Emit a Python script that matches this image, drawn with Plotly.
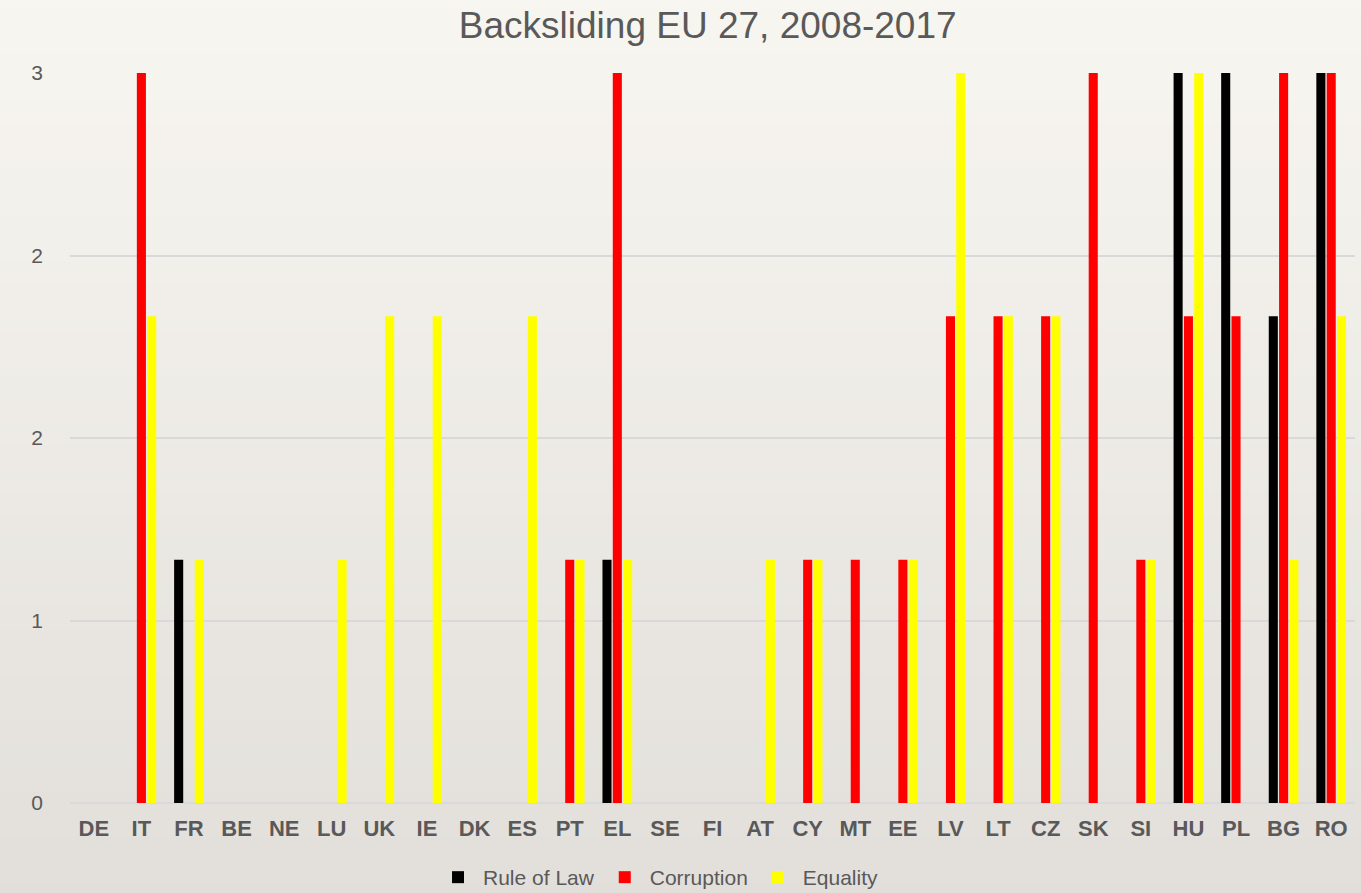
import plotly.graph_objects as go

countries = ["DE", "IT", "FR", "BE", "NE", "LU", "UK", "IE", "DK", "ES", "PT", "EL", "SE", "FI",
             "AT", "CY", "MT", "EE", "LV", "LT", "CZ", "SK", "SI", "HU", "PL", "BG", "RO"]
rule_of_law = [0, 0, 1, 0, 0, 0, 0, 0, 0, 0, 0, 1, 0, 0, 0, 0, 0, 0, 0, 0, 0, 0, 0, 3, 3, 2, 3]
corruption  = [0, 3, 0, 0, 0, 0, 0, 0, 0, 0, 1, 3, 0, 0, 0, 1, 1, 1, 2, 2, 2, 3, 1, 2, 2, 3, 3]
equality    = [0, 2, 1, 0, 0, 1, 2, 2, 0, 2, 1, 1, 0, 0, 1, 1, 0, 1, 3, 2, 2, 0, 1, 3, 0, 1, 2]

y_tickvals = [0, 0.75, 1.5, 2.25, 3]
y_ticktext = ["0", "1", "2", "2", "3"]

series = [("Rule of Law", rule_of_law, "#000000"),
          ("Corruption", corruption, "#ff0000"),
          ("Equality", equality, "#ffff00")]

fig = go.Figure()
for name, vals, col in series:
    fig.add_trace(go.Bar(x=countries, y=vals, name=name,
                         marker=dict(color=col, line=dict(width=0))))

# background gradient bands
shapes = []
n = 40
top = (248, 246, 240)
bot = (226, 223, 219)
for i in range(n):
    t = i / (n - 1)
    c = tuple(int(round(top[k] + (bot[k] - top[k]) * t)) for k in range(3))
    shapes.append(dict(type="rect", xref="paper", yref="paper", layer="below",
                       x0=-0.1, x1=1.1,
                       y1=1.12 - i * (1.12 + 0.14) / n,
                       y0=1.12 - (i + 1) * (1.12 + 0.14) / n - 0.002,
                       fillcolor="rgb(%d,%d,%d)" % c, line=dict(width=0)))

FONT = "Liberation Sans, Arial, sans-serif"

fig.update_layout(
    width=1361, height=893,
    margin=dict(l=70, r=6, t=73, b=90, autoexpand=False),
    paper_bgcolor="#e4e1dd",
    plot_bgcolor="rgba(0,0,0,0)",
    shapes=shapes,
    barmode="group",
    bargap=0.35,
    bargroupgap=0.12,
    title=dict(text="Backsliding EU 27, 2008-2017", x=0.52, xanchor="center", y=0.972, yanchor="middle",
               font=dict(family=FONT, size=37, color="#595959")),
    font=dict(family=FONT, color="#595959"),
    xaxis=dict(tickfont=dict(size=22, color="#595959", family=FONT, weight="bold"),
               showgrid=False, showline=False, ticks="", ticklabelstandoff=10),
    yaxis=dict(range=[0, 3], tickvals=y_tickvals, ticktext=y_ticktext,
               tickfont=dict(size=21, color="#595959"),
               showgrid=True, gridcolor="#d9d9d9", gridwidth=1.5,
               zeroline=True, zerolinecolor="#d9d9d9", zerolinewidth=1.5,
               showline=False, ticks="", ticklabelstandoff=26),
    legend=dict(orientation="h", x=0.458, xanchor="center", y=-0.074, yanchor="top",
                font=dict(size=21, color="#595959"), itemwidth=40,
                bgcolor="rgba(0,0,0,0)", traceorder="normal"),
)

fig.write_html("out.html", config={"displayModeBar": False},
               post_script="document.body.style.margin='0';document.body.style.overflow='hidden';")
